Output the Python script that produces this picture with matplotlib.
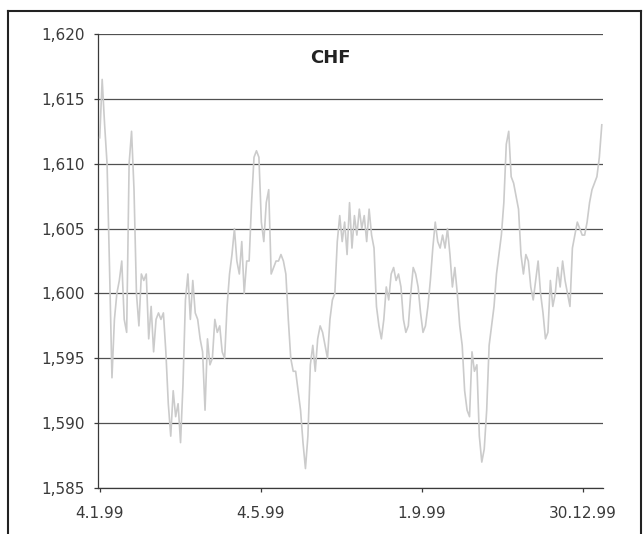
import matplotlib
matplotlib.use("Agg")
import matplotlib.pyplot as plt
from matplotlib.lines import Line2D
import pandas as pd

title = "CHF"
start_date = "1999-01-04"
end_date = "2000-01-13"
rate = [
    1.612, 1.6165, 1.613, 1.610, 1.602, 1.5935, 1.598, 1.600, 1.601, 1.6025,
    1.598, 1.597, 1.610, 1.6125, 1.608, 1.600, 1.5975, 1.6015, 1.601, 1.6015,
    1.5965, 1.599, 1.5955, 1.598, 1.5985, 1.598, 1.5985, 1.5955, 1.5915, 1.589,
    1.5925, 1.5905, 1.5915, 1.5885, 1.593, 1.5995, 1.6015, 1.598, 1.601, 1.5985,
    1.598, 1.5965, 1.5955, 1.591, 1.5965, 1.5945, 1.595, 1.598, 1.597, 1.5975,
    1.5955, 1.595, 1.599, 1.6015, 1.603, 1.605, 1.6025, 1.6015, 1.604, 1.600,
    1.6025, 1.6025, 1.607, 1.6105, 1.611, 1.6105, 1.6055, 1.604, 1.607, 1.608,
    1.6015, 1.602, 1.6025, 1.6025, 1.603, 1.6025, 1.6015, 1.598, 1.595, 1.594,
    1.594, 1.5925, 1.591, 1.5885, 1.5865, 1.589, 1.5945, 1.596, 1.594, 1.5965,
    1.5975, 1.597, 1.596, 1.595, 1.598, 1.5995, 1.600, 1.604, 1.606, 1.604,
    1.6055, 1.603, 1.607, 1.6035, 1.606, 1.6045, 1.6065, 1.605, 1.606, 1.604,
    1.6065, 1.6045, 1.6035, 1.599, 1.5975, 1.5965, 1.598, 1.6005, 1.5995, 1.6015,
    1.602, 1.601, 1.6015, 1.6005, 1.598, 1.597, 1.5975, 1.600, 1.602, 1.6015,
    1.6005, 1.5985, 1.597, 1.5975, 1.599, 1.601, 1.6035, 1.6055, 1.604, 1.6035,
    1.6045, 1.6035, 1.605, 1.603, 1.6005, 1.602, 1.600, 1.5975, 1.596, 1.5925,
    1.591, 1.5905, 1.5955, 1.594, 1.5945, 1.589, 1.587, 1.588, 1.591, 1.596,
    1.5975, 1.599, 1.6015, 1.603, 1.6045, 1.607, 1.6115, 1.6125, 1.609, 1.6085,
    1.6075, 1.6065, 1.603, 1.6015, 1.603, 1.6025, 1.6005, 1.5995, 1.601, 1.6025,
    1.600, 1.5985, 1.5965, 1.597, 1.601, 1.599, 1.600, 1.602, 1.6005, 1.6025,
    1.601, 1.600, 1.599, 1.6035, 1.6045, 1.6055, 1.605, 1.6045, 1.6045, 1.6055,
    1.607, 1.608, 1.6085, 1.609, 1.6105, 1.613,
]
tick_dates = ["1999-01-04", "1999-05-04", "1999-09-01", "1999-12-30"]
tick_labels = ["4.1.99", "4.5.99", "1.9.99", "30.12.99"]
y_ticks = [1.585, 1.590, 1.595, 1.600, 1.605, 1.610, 1.615, 1.620]
y_labels = ["1,585", "1,590", "1,595", "1,600", "1,605", "1,610", "1,615", "1,620"]

dates = pd.date_range(start_date, end_date, periods=len(rate))

plt.rcParams['font.family'] = ['DejaVu Sans']
fig = plt.figure(figsize=(6.43, 5.34), dpi=100)
fig.patch.set_facecolor("white")
ax = fig.add_axes([0.153, 0.0861, 0.785, 0.8502])

ax.plot(dates, rate, color="#cbcbcb", linewidth=1.2, zorder=3)

ax.set_ylim(1.585, 1.620)
ax.set_xlim(pd.Timestamp("1999-01-03"), pd.Timestamp("2000-01-14"))
ax.set_yticks(y_ticks)
ax.set_yticklabels(y_labels)
ax.set_xticks(pd.to_datetime(tick_dates))
ax.set_xticklabels(tick_labels)

ax.yaxis.grid(True, color="#505050", linewidth=0.9, zorder=1)
ax.xaxis.grid(False)
for s in ["top", "right"]:
    ax.spines[s].set_visible(False)
for s in ["left", "bottom"]:
    ax.spines[s].set_color("#3a3a3a")
    ax.spines[s].set_linewidth(0.9)

ax.tick_params(axis="y", direction="out", length=3, width=0.9, color="#3a3a3a",
               labelsize=11, labelcolor="#3a3a3a", pad=7)
ax.tick_params(axis="x", direction="out", length=3, width=0.9, color="#3a3a3a",
               labelsize=11, labelcolor="#3a3a3a", pad=10)

ax.text(0.46, 0.948, title, transform=ax.transAxes, ha="center", va="center",
        fontsize=13, fontweight="bold", color="#222222")

# outer frame of the figure
for (x0, y0, x1, y1) in [(0.0125, 0.0, 0.0125, 0.979), (0.0125, 0.979, 0.997, 0.979),
                         (0.997, 0.979, 0.997, 0.0)]:
    fig.add_artist(Line2D([x0, x1], [y0, y1], transform=fig.transFigure,
                          color="#222222", linewidth=1.5))

fig.savefig("out.png", dpi=100, facecolor="white")
